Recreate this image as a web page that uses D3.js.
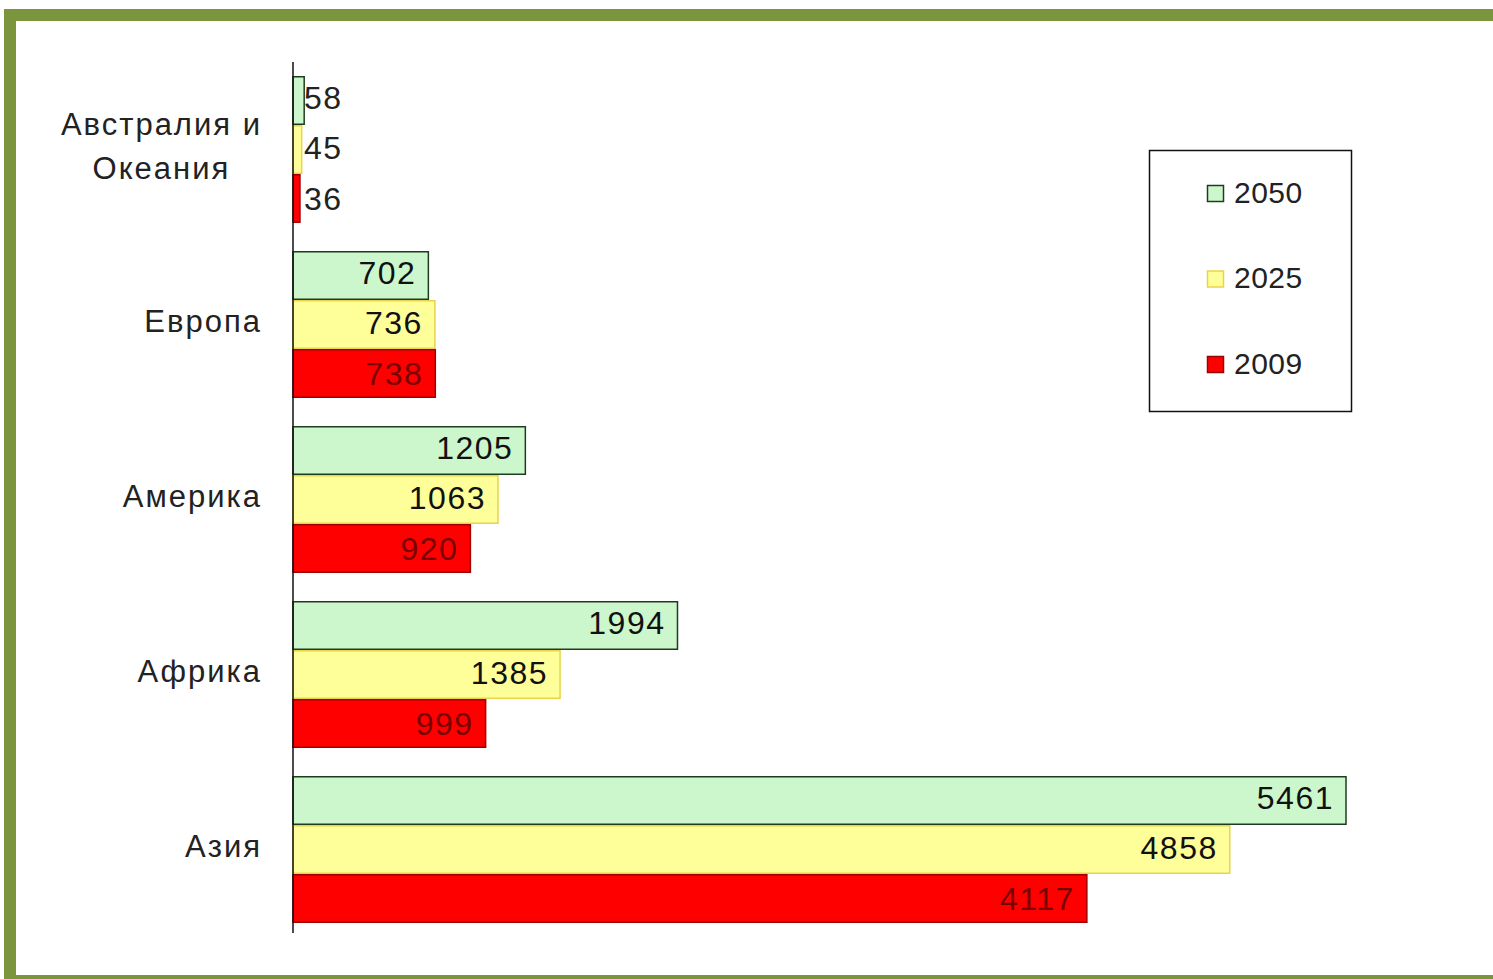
<!DOCTYPE html>
<html>
<head>
<meta charset="utf-8">
<script src="https://cdn.jsdelivr.net/npm/d3@7"></script>
<style>
  html, body { margin: 0; padding: 0; background: #ffffff; }
  svg { display: block; }
  text { font-family: "Liberation Sans", Arial, sans-serif; }
</style>
</head>
<body>
<svg id="chart" width="1493" height="979"></svg>
<script>
// ---- data ----
const categories = ["Австралия и Океания", "Европа", "Америка", "Африка", "Азия"];
const categoryLines = [["Австралия и", "Океания"], ["Европа"], ["Америка"], ["Африка"], ["Азия"]];
const seriesNames = ["2050", "2025", "2009"];
const values2050 = [58, 702, 1205, 1994, 5461];
const values2025 = [45, 736, 1063, 1385, 4858];
const values2009 = [36, 738, 920, 999, 4117];

const seriesValues = [values2050, values2025, values2009];
const fills = ["#ccf7cc", "#ffff99", "#ff0000"];
const strokes = ["#1e3d1e", "#e8d44a", "#a00000"];
const labelColors = ["#111111", "#111111", "#7a0000"];

const svg = d3.select("#chart");
const W = 1493, H = 979;

// frame
svg.append("rect").attr("x", 4).attr("y", 9).attr("width", W).attr("height", H)
  .attr("fill", "#7a953b");
svg.append("rect").attr("x", 16).attr("y", 21).attr("width", W - 16).attr("height", 975 - 21)
  .attr("fill", "#ffffff");

// scales
const y = d3.scaleBand().domain(categories).range([62, 937])
  .paddingInner(0.16).paddingOuter(0.08);
const ySub = d3.scaleBand().domain(seriesNames).range([0, y.bandwidth()]).padding(0);
const x = d3.scaleLinear().domain([0, 5461]).range([293, 1346]);

// bars
const rows = [];
categories.forEach((c, i) => {
  seriesNames.forEach((s, j) => {
    rows.push({ cat: c, series: s, j: j, value: seriesValues[j][i] });
  });
});

const g = svg.append("g");
g.selectAll("rect.bar").data(rows).enter().append("rect")
  .attr("class", "bar")
  .attr("x", x(0))
  .attr("y", d => y(d.cat) + ySub(d.series) + 0.75)
  .attr("width", d => x(d.value) - x(0))
  .attr("height", ySub.bandwidth() - 1.5)
  .attr("fill", d => fills[d.j])
  .attr("stroke", d => strokes[d.j])
  .attr("stroke-width", 1.5);

// value labels
g.selectAll("text.val").data(rows).enter().append("text")
  .attr("class", "val")
  .each(function(d) {
    const inside = (x(d.value) - x(0)) > 80;
    const t = d3.select(this);
    t.attr("x", inside ? x(d.value) - 12 : x(0) + 11)
     .attr("text-anchor", inside ? "end" : "start")
     .attr("fill", inside ? labelColors[d.j] : "#222222");
  })
  .attr("y", d => y(d.cat) + ySub(d.series) + ySub.bandwidth() / 2 - 3 + d.j * 1.5)
  .attr("dominant-baseline", "central")
  .attr("font-size", 32)
  .attr("letter-spacing", "1.5px")
  .text(d => d.value);

// axis line
const axis = svg.append("g").attr("transform", `translate(${x(0)},0)`)
  .call(d3.axisLeft(y).tickSize(0).tickSizeOuter(0).tickFormat(""));
axis.select(".domain").attr("stroke", "#111").attr("stroke-width", 1.5)
  .attr("d", "M0,62V933");

// category labels
categories.forEach((c, i) => {
  const lines = categoryLines[i];
  const cy = y(c) + y.bandwidth() / 2;
  const lh = 44;
  const tg = svg.append("g");
  const texts = lines.map((ln, k) => tg.append("text")
    .attr("y", cy + (k - (lines.length - 1) / 2) * lh - 3)
    .attr("dominant-baseline", "central")
    .attr("font-size", 31)
    .attr("letter-spacing", "2px")
    .attr("fill", "#222222")
    .text(ln));
  if (lines.length === 1) {
    texts[0].attr("x", 262).attr("text-anchor", "end");
  } else {
    const maxW = d3.max(texts, t => t.node().getComputedTextLength());
    texts.forEach(t => t.attr("x", 262 - maxW / 2).attr("text-anchor", "middle"));
  }
});

// legend
const lg = svg.append("g");
lg.append("rect").attr("x", 1149.5).attr("y", 150.5).attr("width", 202).attr("height", 261)
  .attr("fill", "#ffffff").attr("stroke", "#111").attr("stroke-width", 1.5);
const legendY = d3.scalePoint().domain(seriesNames).range([193, 364]);
seriesNames.forEach((s, j) => {
  lg.append("rect").attr("x", 1207.5).attr("y", legendY(s) - 7.5).attr("width", 16).attr("height", 16)
    .attr("fill", fills[j]).attr("stroke", strokes[j]).attr("stroke-width", 1.5);
  lg.append("text").attr("x", 1234).attr("y", legendY(s) - 1)
    .attr("dominant-baseline", "central")
    .attr("font-size", 30).attr("letter-spacing", "0.5px")
    .attr("fill", "#222222")
    .text(s);
});
</script>
</body>
</html>
